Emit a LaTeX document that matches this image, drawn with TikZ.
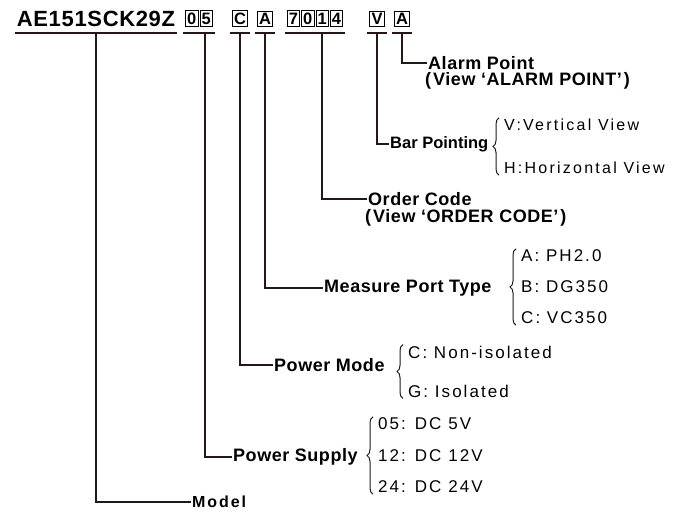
\documentclass[tikz,border=0pt]{standalone}
\usepackage{fontspec}
\setmainfont{Liberation Sans}
\usetikzlibrary{decorations.pathreplacing}
\definecolor{ink}{HTML}{231815}
\newcommand{\hdrfont}{\fontsize{22}{24}\selectfont\bfseries\addfontfeatures{LetterSpace=3}}
\newcommand{\boxfont}{\fontsize{16.5}{18}\selectfont\bfseries}
\newcommand{\bigfont}{\fontsize{18}{20}\selectfont\bfseries\addfontfeatures{LetterSpace=3}}
\newcommand{\barfont}{\fontsize{16.5}{18}\selectfont\bfseries}
\newcommand{\modelfont}{\fontsize{16}{18}\selectfont\bfseries\addfontfeatures{LetterSpace=12}}
\newcommand{\optfont}{\fontsize{17}{19}\selectfont\addfontfeatures{LetterSpace=12}}
\newcommand{\wideopt}{\fontsize{16}{18}\selectfont\addfontfeatures{LetterSpace=14}}
\newcommand{\cbox}[1]{\fbox{\rule{0pt}{12pt}#1}}
\setlength{\fboxsep}{1.2pt}
\setlength{\fboxrule}{0.9pt}
\tikzstyle{grp} = [anchor=south, inner xsep=2pt, inner ysep=6pt, font=\boxfont]
\tikzstyle{uline} = [line width=1.4pt, draw=ink]
\tikzstyle{conn} = [line width=1.6pt, draw=ink]
\tikzstyle{lbl} = [anchor=west, inner sep=1pt, font=\bigfont]
\tikzstyle{opt} = [anchor=west, inner sep=1pt, font=\optfont]
\tikzstyle{brc} = [decorate, decoration={brace, amplitude=6pt}, line width=1pt, draw=ink]

\begin{document}
\begin{tikzpicture}[x=1pt, y=-1pt]
	\useasboundingbox (0,0) rectangle (685,514);
	\node (hdr) at (96,33) [grp, font=\hdrfont] {AE151SCK29Z};
	\node (g05) at (199,33) [grp] {\cbox{0}\kern1pt\cbox{5}};
	\node (gC) at (240,33) [grp] {\cbox{C}};
	\node (gA) at (265,33) [grp] {\cbox{A}};
	\node (g7014) at (315,33) [grp] {\cbox{7}\kern1pt\cbox{0}\kern1pt\cbox{1}\kern1pt\cbox{4}};
	\node (gV) at (377,33) [grp] {\cbox{V}};
	\node (gAl) at (402,33) [grp] {\cbox{A}};
	\foreach \g in {hdr,g05,gC,gA,g7014,gV,gAl}
		\draw [uline] (\g.south west) -- (\g.south east);
	% labels
	\node (alarm) at (427,63) [lbl] {Alarm Point};
	\node (alarmv) at (424,81) [lbl] {(\kern2pt View ‘ALARM POINT’\kern2pt)};
	\node (bar) at (389,144) [lbl, font=\barfont] {Bar Pointing};
	\node (barV) at (503,125) [opt, font=\wideopt] {V:Vertical View};
	\node (barH) at (503,168) [opt, font=\wideopt] {H:Horizontal View};
	\node (order) at (367,199) [lbl] {Order Code};
	\node (orderv) at (364,218) [lbl] {(\kern2pt View ‘ORDER CODE’\kern2pt)};
	\node (port) at (323,288) [lbl] {Measure Port Type};
	\node (portA) at (520,256) [opt] {A: PH2.0};
	\node (portB) at (520,287) [opt] {B: DG350};
	\node (portC) at (520,318) [opt] {C: VC350};
	\node (mode) at (273,365) [lbl] {Power Mode};
	\node (modeC) at (407,352) [opt] {C: Non-isolated};
	\node (modeG) at (407,391) [opt] {G: Isolated};
	\node (supply) at (232,457) [lbl] {Power Supply};
	\node (sup05) at (377,424) [opt] {05: DC 5V};
	\node (sup12) at (377,456) [opt] {12: DC 12V};
	\node (sup24) at (377,487) [opt] {24: DC 24V};
	\node (model) at (191,502) [lbl, font=\modelfont] {Model};
	% connectors
	\draw [conn] (gAl.south) |- (alarm.west);
	\draw [conn] (gV.south) |- (bar.west);
	\draw [conn] ([xshift=7pt]g7014.south) |- (order.west);
	\draw [conn] (gA.south) |- (port.west);
	\draw [conn] (gC.south) |- (mode.west);
	\draw [conn] ([xshift=6pt]g05.south) |- (supply.west);
	\draw [conn] (hdr.south) |- (model.west);
	% braces
	\draw [brc] ([xshift=-4pt]barH.south west) -- ([xshift=-4pt]barV.north west);
	\draw [brc] ([xshift=-4pt]portC.south west) -- ([xshift=-4pt]portA.north west);
	\draw [brc] ([xshift=-4pt]modeG.south west) -- ([xshift=-4pt]modeC.north west);
	\draw [brc] ([xshift=-4pt]sup24.south west) -- ([xshift=-4pt]sup05.north west);
\end{tikzpicture}
\end{document}
